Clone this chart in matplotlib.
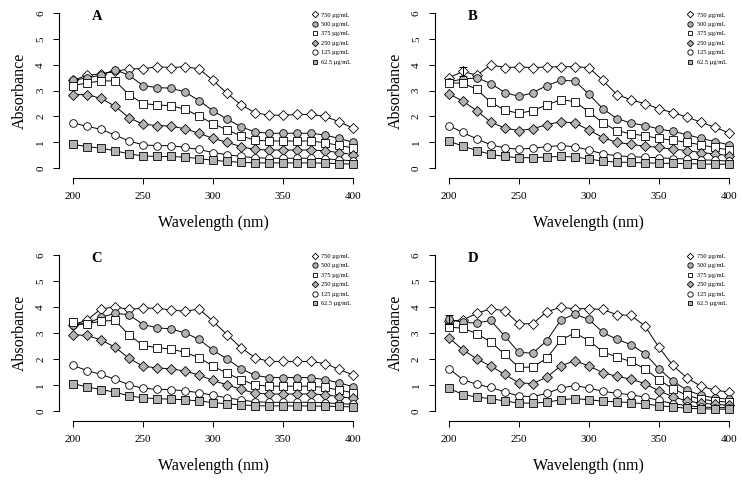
import numpy as np
import matplotlib
matplotlib.use("Agg")
import matplotlib.pyplot as plt

plt.rcParams['font.family'] = ['Liberation Serif', 'DejaVu Serif']

wavelength = np.arange(200, 401, 10)
concentrations = ["750 µg/mL", "500 µg/mL", "375 µg/mL", "250 µg/mL", "125 µg/mL", "62.5 µg/mL"]

# panel A
A_750 = [3.4, 3.6, 3.65, 3.75, 3.85, 3.85, 3.93, 3.9, 3.93, 3.85, 3.4, 2.9, 2.45, 2.15, 2.05, 2.05, 2.08, 2.08, 2.0, 1.8, 1.55]
A_500 = [3.4, 3.5, 3.6, 3.82, 3.6, 3.2, 3.12, 3.1, 2.95, 2.62, 2.22, 1.9, 1.6, 1.4, 1.35, 1.35, 1.35, 1.35, 1.28, 1.15, 1.0]
A_375 = [3.2, 3.3, 3.38, 3.38, 2.85, 2.5, 2.45, 2.42, 2.28, 2.02, 1.72, 1.48, 1.25, 1.08, 1.05, 1.05, 1.05, 1.05, 0.98, 0.88, 0.78]
A_250 = [2.85, 2.85, 2.7, 2.4, 1.95, 1.7, 1.65, 1.63, 1.52, 1.35, 1.15, 1.0, 0.83, 0.72, 0.7, 0.7, 0.7, 0.7, 0.67, 0.6, 0.52]
A_125 = [1.75, 1.62, 1.5, 1.28, 1.05, 0.9, 0.87, 0.87, 0.8, 0.72, 0.6, 0.52, 0.45, 0.4, 0.38, 0.38, 0.38, 0.38, 0.36, 0.32, 0.28]
A_62 = [0.92, 0.83, 0.77, 0.67, 0.55, 0.47, 0.45, 0.45, 0.42, 0.37, 0.3, 0.26, 0.22, 0.2, 0.2, 0.2, 0.2, 0.2, 0.19, 0.17, 0.15]

# panel B
B_750 = [3.5, 3.75, 3.6, 4.0, 3.9, 3.92, 3.9, 3.92, 3.93, 3.93, 3.9, 3.4, 2.85, 2.65, 2.5, 2.3, 2.15, 1.98, 1.78, 1.58, 1.37]
B_500 = [3.35, 3.45, 3.5, 3.28, 2.93, 2.78, 2.92, 3.2, 3.4, 3.38, 2.87, 2.3, 1.92, 1.75, 1.65, 1.52, 1.42, 1.3, 1.15, 1.03, 0.9]
B_375 = [3.3, 3.3, 3.05, 2.55, 2.25, 2.12, 2.23, 2.45, 2.65, 2.58, 2.18, 1.75, 1.45, 1.33, 1.25, 1.15, 1.08, 1.0, 0.9, 0.8, 0.7]
B_250 = [2.88, 2.6, 2.22, 1.78, 1.55, 1.45, 1.53, 1.68, 1.8, 1.75, 1.48, 1.18, 1.0, 0.92, 0.85, 0.8, 0.73, 0.68, 0.6, 0.55, 0.48]
B_125 = [1.65, 1.38, 1.13, 0.9, 0.78, 0.73, 0.77, 0.83, 0.87, 0.83, 0.7, 0.55, 0.48, 0.44, 0.42, 0.4, 0.37, 0.35, 0.32, 0.3, 0.27]
B_62 = [1.05, 0.85, 0.68, 0.53, 0.45, 0.4, 0.4, 0.43, 0.45, 0.43, 0.35, 0.27, 0.23, 0.22, 0.2, 0.19, 0.18, 0.17, 0.16, 0.15, 0.15]

# panel C
C_750 = [3.3, 3.5, 3.92, 4.0, 3.9, 3.95, 3.95, 3.88, 3.83, 3.92, 3.45, 2.93, 2.43, 2.05, 1.9, 1.9, 1.9, 1.9, 1.82, 1.6, 1.38]
C_500 = [3.3, 3.35, 3.6, 3.75, 3.7, 3.32, 3.2, 3.15, 3.0, 2.75, 2.33, 2.0, 1.62, 1.37, 1.28, 1.28, 1.28, 1.28, 1.2, 1.08, 0.93]
C_375 = [3.4, 3.35, 3.45, 3.48, 2.92, 2.52, 2.43, 2.38, 2.25, 2.05, 1.72, 1.45, 1.2, 1.0, 0.95, 0.95, 0.95, 0.95, 0.9, 0.8, 0.7]
C_250 = [2.93, 2.9, 2.73, 2.45, 2.02, 1.72, 1.65, 1.62, 1.53, 1.38, 1.17, 1.0, 0.83, 0.68, 0.65, 0.65, 0.65, 0.65, 0.62, 0.55, 0.48]
C_125 = [1.75, 1.55, 1.4, 1.22, 1.0, 0.87, 0.83, 0.82, 0.77, 0.7, 0.6, 0.5, 0.42, 0.35, 0.33, 0.33, 0.33, 0.33, 0.31, 0.28, 0.25]
C_62 = [1.05, 0.92, 0.82, 0.72, 0.58, 0.5, 0.47, 0.45, 0.43, 0.38, 0.32, 0.27, 0.23, 0.2, 0.19, 0.19, 0.19, 0.19, 0.18, 0.17, 0.15]

# panel D
D_750 = [3.45, 3.5, 3.75, 3.93, 3.85, 3.35, 3.35, 3.82, 3.98, 3.93, 3.93, 3.9, 3.7, 3.67, 3.27, 2.45, 1.75, 1.27, 0.95, 0.8, 0.72]
D_500 = [3.52, 3.4, 3.38, 3.48, 2.87, 2.25, 2.22, 2.7, 3.5, 3.72, 3.52, 3.02, 2.75, 2.55, 2.2, 1.62, 1.15, 0.8, 0.6, 0.5, 0.45]
D_375 = [3.22, 3.18, 2.97, 2.65, 2.17, 1.68, 1.68, 2.03, 2.72, 3.0, 2.7, 2.28, 2.07, 1.9, 1.62, 1.2, 0.85, 0.6, 0.45, 0.38, 0.33]
D_250 = [2.82, 2.35, 2.0, 1.72, 1.4, 1.08, 1.05, 1.3, 1.73, 1.93, 1.73, 1.47, 1.33, 1.22, 1.05, 0.77, 0.55, 0.38, 0.3, 0.25, 0.22]
D_125 = [1.63, 1.2, 1.02, 0.9, 0.73, 0.57, 0.55, 0.67, 0.88, 0.97, 0.88, 0.75, 0.68, 0.62, 0.53, 0.4, 0.28, 0.2, 0.15, 0.13, 0.12]
D_62 = [0.87, 0.63, 0.53, 0.47, 0.38, 0.3, 0.3, 0.33, 0.43, 0.47, 0.43, 0.37, 0.35, 0.32, 0.27, 0.2, 0.15, 0.1, 0.08, 0.07, 0.06]

# the two visible error bars (panel, series index, wavelength, sd)
err_bars = [("B", 0, 210, 0.17), ("D", 1, 200, 0.18)]

panels = {
    "A": [A_750, A_500, A_375, A_250, A_125, A_62],
    "B": [B_750, B_500, B_375, B_250, B_125, B_62],
    "C": [C_750, C_500, C_375, C_250, C_125, C_62],
    "D": [D_750, D_500, D_375, D_250, D_125, D_62],
}

gray = "#b3b3b3"
styles = [("D", "white", 4.7), ("o", gray, 5.5), ("s", "white", 5.1),
          ("D", gray, 4.7), ("o", "white", 5.5), ("s", gray, 5.1)]

fig = plt.figure(figsize=(7.43, 4.8), dpi=100)
boxes = {"A": [0.0832, 0.637, 0.407, 0.348], "B": [0.589, 0.637, 0.407, 0.348],
         "C": [0.0832, 0.131, 0.407, 0.351], "D": [0.589, 0.131, 0.407, 0.351]}

for name, series in panels.items():
    ax = fig.add_axes(boxes[name])
    for vals, (mk, fc, ms), lab in zip(series, styles, concentrations):
        ax.plot(wavelength, vals, color="black", lw=0.7, marker=mk, mfc=fc,
                mec="black", mew=0.6, ms=ms, label=lab)
    for p, si, wl, sd in err_bars:
        if p == name:
            yv = series[si][list(wavelength).index(wl)]
            ax.errorbar([wl], [yv], yerr=[sd], fmt="none", ecolor="black",
                        elinewidth=0.7, capsize=3, capthick=0.7)
    ax.set_xlim(192, 408)
    ax.set_ylim(-0.24, 6.24)
    ax.set_xticks([200, 250, 300, 350, 400])
    ax.set_yticks(range(7))
    for s in ["top", "right"]:
        ax.spines[s].set_visible(False)
    ax.spines["left"].set_bounds(0, 6)
    ax.spines["bottom"].set_bounds(200, 400)
    ax.spines["left"].set_position(("outward", 2))
    ax.spines["bottom"].set_position(("outward", 3))
    ax.tick_params(labelsize=8, length=4, width=0.7, pad=6)
    plt.setp(ax.get_yticklabels(), rotation=90, va="center")
    ax.set_xlabel("Wavelength (nm)", fontsize=11.5, labelpad=10)
    ax.set_ylabel("Absorbance", fontsize=11.5, labelpad=6)
    ax.text(217, 5.86, name, fontsize=10.5, fontweight="bold", ha="center", va="center")
    ax.legend(loc="upper right", bbox_to_anchor=(0.975, 1.005), frameon=False,
              fontsize=4.6, markerscale=0.7, handlelength=0.8, handletextpad=0.6,
              labelspacing=0.62)
    for h in ax.get_legend().get_lines():
        h.set_linestyle("none")

fig.savefig("out.png", dpi=100)
